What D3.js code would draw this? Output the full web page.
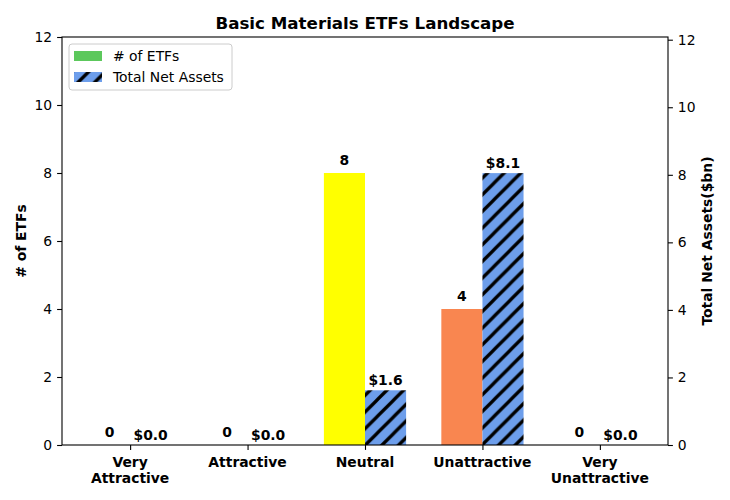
<!DOCTYPE html>
<html>
<head>
<meta charset="utf-8">
<script src="https://cdn.jsdelivr.net/npm/d3@7"></script>
<style>
body{margin:0;background:#fff;}
text{font-family:"DejaVu Sans",sans-serif;}
</style>
</head>
<body>
<svg id="c" width="730" height="500"></svg>
<script>
const categories = ["Very\nAttractive","Attractive","Neutral","Unattractive","Very\nUnattractive"];
const etfCounts = [0,0,8,4,0];
const netAssets = [0.0,0.0,1.62,8.05,0.0];
const barColors = ["#5cc85c","#a8d65c","#ffff00","#f98650","#e8412e"];
const leftTicks = [0,2,4,6,8,10,12];
const rightTicks = [0,2,4,6,8,10,12];
const title = "Basic Materials ETFs Landscape";

const svg = d3.select("#c");
const L=62,R=668,T=37,B=445;
const x = d3.scaleLinear().domain([-0.58,4.58]).range([L,R]);
const yL = d3.scaleLinear().domain([0,12]).range([B,T]);
const yR = d3.scaleLinear().domain([0,12.08]).range([B,T]);
const bw = 0.35;

const P = 16.667;
const defs = svg.append("defs");
const pat = defs.append("pattern").attr("id","hatch").attr("patternUnits","userSpaceOnUse")
  .attr("width",P).attr("height",P).attr("patternTransform","translate(10.4,0)");
pat.append("rect").attr("width",P).attr("height",P).attr("fill","#6d9eeb");
pat.append("path").attr("d",`M-3,3 L3,-3 M0,${P} L${P},0 M${P-3},${P+3} L${P+3},${P-3}`)
  .attr("stroke","#000").attr("stroke-width",3.3);

// bars
categories.forEach((c,i)=>{
  const x0 = x(i-bw), x1 = x(i), x2 = x(i+bw);
  if(etfCounts[i]>0) svg.append("rect").attr("x",x0).attr("width",x1-x0)
    .attr("y",yL(etfCounts[i])).attr("height",B-yL(etfCounts[i])).attr("fill",barColors[i]);
  if(netAssets[i]>0) svg.append("rect").attr("x",x1).attr("width",x2-x1)
    .attr("y",yR(netAssets[i])).attr("height",B-yR(netAssets[i])).attr("fill","url(#hatch)");
  svg.append("text").attr("x",(x0+x1)/2).attr("y",yL(etfCounts[i])-8)
    .attr("text-anchor","middle").attr("font-size",13.9).attr("font-weight","bold").text(etfCounts[i]);
  svg.append("text").attr("x",(x1+x2)/2).attr("y",yR(netAssets[i])-5)
    .attr("text-anchor","middle").attr("font-size",13.9).attr("font-weight","bold").text("$"+netAssets[i].toFixed(1));
});

// axes
const axL = svg.append("g").attr("transform",`translate(${L},0)`)
  .call(d3.axisLeft(yL).tickValues(leftTicks).tickSize(4.9).tickPadding(4.9));
const axR = svg.append("g").attr("transform",`translate(${R},0)`)
  .call(d3.axisRight(yR).tickValues(rightTicks).tickSize(4.9).tickPadding(4.9));
const axB = svg.append("g").attr("transform",`translate(0,${B})`)
  .call(d3.axisBottom(x).tickValues(d3.range(categories.length)).tickSize(4.9).tickFormat(""));
[axL,axR,axB].forEach(a=>{
  a.select(".domain").remove();
  a.selectAll("line").attr("stroke","#000").attr("stroke-width",1.1);
  a.selectAll("text").attr("font-size",13.9).attr("fill","#000").attr("font-family","DejaVu Sans");
});
// x tick labels bold multi-line
categories.forEach((c,i)=>{
  const t = svg.append("text").attr("x",x(i)).attr("y",467).attr("text-anchor","middle")
    .attr("font-size",13.9).attr("font-weight","bold");
  c.split("\n").forEach((s,j)=>t.append("tspan").attr("x",x(i)).attr("dy",j?16:0).text(s));
});
// frame
svg.append("rect").attr("x",L).attr("y",T).attr("width",R-L).attr("height",B-T)
  .attr("fill","none").attr("stroke","#000").attr("stroke-width",1.1);

// title and labels
svg.append("text").attr("x",(L+R)/2).attr("y",29).attr("text-anchor","middle")
  .attr("font-size",16.7).attr("font-weight","bold").text(title);
svg.append("text").attr("transform",`translate(26,${(T+B)/2}) rotate(-90)`).attr("text-anchor","middle")
  .attr("font-size",13.9).attr("font-weight","bold").text("# of ETFs");
svg.append("text").attr("transform",`translate(712,${(T+B)/2}) rotate(-90)`).attr("text-anchor","middle")
  .attr("font-size",13.9).attr("font-weight","bold").text("Total Net Assets($bn)");

// legend
const lg = svg.append("g");
lg.append("rect").attr("x",69).attr("y",44).attr("width",163).attr("height",46).attr("rx",3)
  .attr("fill","#fff").attr("fill-opacity",0.8).attr("stroke","#ccc").attr("stroke-width",1);
lg.append("rect").attr("x",74).attr("y",51).attr("width",28).attr("height",10).attr("fill",barColors[0]);
lg.append("rect").attr("x",74).attr("y",72).attr("width",28).attr("height",10).attr("fill","url(#hatch)");
lg.append("text").attr("x",113).attr("y",61).attr("font-size",13.9).text("# of ETFs");
lg.append("text").attr("x",113).attr("y",82).attr("font-size",13.9).text("Total Net Assets");
</script>
</body>
</html>
